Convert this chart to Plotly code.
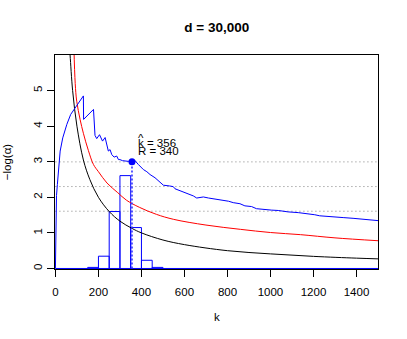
import numpy as np
import plotly.graph_objects as go

# ---- data ----
title_text = "d = 30,000"

# blue curve: -log(alpha) of the observed statistic vs k
blue_k = [0, 2, 5, 9, 14, 22, 34, 53, 71, 91, 112, 130, 131, 177, 184, 192, 205, 211, 219, 231,
          246, 254, 262, 273, 285, 293, 300, 312, 324, 340, 348, 356, 363, 370, 386, 409, 425,
          440, 463, 486, 502, 530, 548, 556, 575, 595, 618, 641, 657, 688, 712, 734, 758, 780,
          805, 827, 858, 881, 912, 935, 959, 1005, 1036, 1052, 1082, 1129, 1175, 1206, 1229,
          1276, 1338, 1384, 1431, 1470, 1500]
blue_y = [0, 1.7, 2.05, 2.36, 2.83, 3.3, 3.67, 4.05, 4.33, 4.51, 4.70, 4.85, 4.19, 4.47, 3.74,
          3.65, 3.76, 3.66, 3.58, 3.68, 3.30, 3.34, 3.20, 3.13, 3.16, 3.06, 3.06, 3.03, 3.03,
          3.01, 2.99, 3.00, 2.98, 3.03, 2.92, 2.78, 2.72, 2.64, 2.55, 2.43, 2.34, 2.32, 2.30,
          2.24, 2.20, 2.15, 2.10, 2.04, 1.98, 2.01, 1.98, 1.96, 1.94, 1.92, 1.89, 1.85, 1.82,
          1.76, 1.74, 1.68, 1.66, 1.64, 1.63, 1.61, 1.59, 1.57, 1.54, 1.51, 1.48, 1.45, 1.43,
          1.41, 1.38, 1.35, 1.345]

# red curve
red_k = [86, 92, 99, 115, 130, 153, 177, 200, 240, 290, 330, 390, 470, 550, 700, 860, 1000,
         1140, 1300, 1500]
red_y = [6.2, 5.2, 4.7, 4.18, 3.8, 3.32, 2.92, 2.72, 2.40, 2.13, 1.92, 1.72, 1.52, 1.38, 1.22,
         1.10, 1.01, 0.95, 0.86, 0.78]

# black curve
black_k = [64, 68, 80, 100, 130, 160, 200, 250, 300, 355, 400, 500, 600, 800, 1000, 1200, 1400, 1500]
black_y = [6.3, 6.0, 5.0, 4.0, 3.05, 2.5, 2.0, 1.6, 1.33, 1.13, 1.0, 0.8, 0.67, 0.5, 0.41, 0.34,
           0.29, 0.27]

# histogram of k-hat (bins of width 50)
hist_left = [150, 200, 250, 300, 350, 400, 450]
hist_height = [0.03, 0.345, 1.6, 2.61, 1.15, 0.23, 0.03]
bin_width = 50

# significance levels drawn as dotted lines
alpha_levels = [0.05, 0.1, 0.2]

k_hat = 356
R_hat = 340
stat_at_khat = 3.0

x_ticks = [0, 200, 400, 600, 800, 1000, 1200, 1400]
y_ticks = [0, 1, 2, 3, 4, 5]
x_max = 1500
y_max = 6

FONT = "Liberation Sans, Arial, Helvetica, sans-serif"
BLUE = "#0000FF"

fig = go.Figure()

# dotted reference lines
for a in alpha_levels:
    lv = -np.log(a)
    fig.add_trace(go.Scatter(x=[0, x_max], y=[lv, lv], mode="lines",
                             line=dict(color="#808080", width=1, dash="1px,3px"),
                             hoverinfo="skip", showlegend=False))

# histogram outline: rectangles built from the bin data
hx, hy = [], []
for left, h in zip(hist_left, hist_height):
    right = left + bin_width
    hx += [left, left, right, right, None]
    hy += [0, h, h, 0, None]
fig.add_trace(go.Scatter(x=hx, y=hy, mode="lines", line=dict(color=BLUE, width=1),
                         showlegend=False, hoverinfo="skip"))
# baseline of histogram
fig.add_trace(go.Scatter(x=[0, x_max], y=[0, 0], mode="lines",
                         line=dict(color=BLUE, width=1), showlegend=False, hoverinfo="skip"))

fig.add_trace(go.Scatter(x=black_k, y=black_y, mode="lines", line=dict(color="black", width=1),
                         line_shape="spline", showlegend=False))
fig.add_trace(go.Scatter(x=red_k, y=red_y, mode="lines", line=dict(color="#FF0000", width=1),
                         line_shape="spline", showlegend=False))
fig.add_trace(go.Scatter(x=blue_k, y=blue_y, mode="lines", line=dict(color=BLUE, width=1),
                         showlegend=False))

# dashed vertical line at k-hat and point
fig.add_trace(go.Scatter(x=[k_hat, k_hat], y=[0, stat_at_khat], mode="lines",
                         line=dict(color="#3333FF", width=1.6, dash="2px,2px"), showlegend=False))
fig.add_trace(go.Scatter(x=[k_hat], y=[stat_at_khat], mode="markers",
                         marker=dict(color=BLUE, size=7), showlegend=False))

annos = [
    dict(x=k_hat + 19, y=stat_at_khat + 0.53, text="k = %d" % k_hat, xanchor="left", yanchor="middle"),
    dict(x=k_hat + 19, y=stat_at_khat + 0.30, text="R = %d" % R_hat, xanchor="left", yanchor="middle"),
    dict(x=k_hat + 19, y=stat_at_khat + 0.66, text="^", xanchor="left", yanchor="middle"),
]
for a in annos:
    fig.add_annotation(xref="x", yref="y", showarrow=False,
                       font=dict(family=FONT, size=11.5, color="#000000"), **a)

# axis titles as annotations
fig.add_annotation(xref="paper", yref="paper", x=0.5, y=-0.225, text="k", showarrow=False,
                   font=dict(family=FONT, size=11.5, color="black"), yanchor="middle")
fig.add_annotation(xref="paper", yref="paper", x=-0.148, y=0.5, text="\u2212log(\u03b1)",
                   showarrow=False, textangle=-90,
                   font=dict(family=FONT, size=11.5, color="black"), xanchor="center")

fig.update_layout(
    width=407, height=339,
    margin=dict(l=55, r=29, t=55, b=70),
    paper_bgcolor="white", plot_bgcolor="white",
    title=dict(text="<b>%s</b>" % title_text, x=0.5325, xanchor="center", y=0.92, yanchor="middle",
               font=dict(family=FONT, size=13.5, color="black")),
    font=dict(family=FONT, size=11.5, color="black"),
    xaxis=dict(range=[-2, x_max], tickvals=x_ticks, ticks="outside", ticklen=7, tickcolor="black",
               showline=True, linecolor="black", linewidth=1, mirror=True, showgrid=False,
               zeroline=False, layer="below traces", tickfont=dict(size=11.5),
               ticklabelstandoff=5),
    yaxis=dict(range=[-0.015, y_max], tickvals=y_ticks, ticks="outside", ticklen=7,
               tickcolor="black", tickangle=-90,
               showline=True, linecolor="black", linewidth=1, mirror=True, showgrid=False,
               zeroline=False, layer="below traces", tickfont=dict(size=11.5)),
)

fig.write_html("out.html", config={"displayModeBar": False},
               post_script="document.body.style.margin='0px';document.body.style.overflow='hidden';")
